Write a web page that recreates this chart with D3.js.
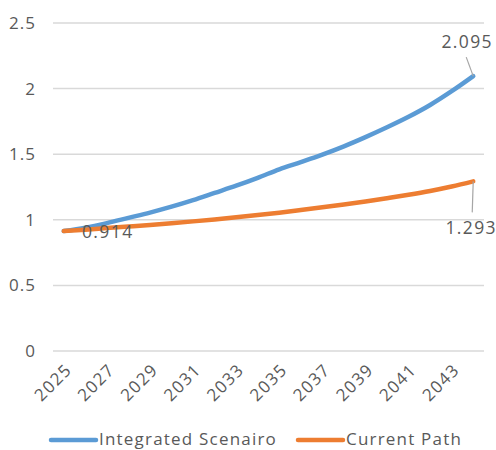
<!DOCTYPE html>
<html>
<head>
<meta charset="utf-8">
<script src="https://cdn.jsdelivr.net/npm/d3@7"></script>
<style>
  html, body { margin: 0; padding: 0; background: #fff; }
  svg { display: block; font-family: "Open Sans", "DejaVu Sans", sans-serif; }
</style>
</head>
<body>
<div id="chart"></div>
<script>
// Index values per year, 2025–2044
const years = d3.range(2025, 2045);
const integratedScenario = [0.914, 0.940, 0.975, 1.015, 1.055, 1.100, 1.150, 1.205, 1.260, 1.320,
                            1.385, 1.440, 1.497, 1.560, 1.630, 1.705, 1.785, 1.875, 1.980, 2.095];
const currentPath = [0.914, 0.925, 0.937, 0.949, 0.961, 0.974, 0.988, 1.003, 1.019, 1.036,
                     1.054, 1.074, 1.095, 1.117, 1.140, 1.165, 1.191, 1.220, 1.254, 1.293];
const yTicks = [0, 0.5, 1, 1.5, 2, 2.5];
const xTickYears = [2025, 2027, 2029, 2031, 2033, 2035, 2037, 2039, 2041, 2043];
const seriesNames = ["Integrated Scenairo", "Current Path"];
const seriesColors = ["#5B9BD5", "#ED7D31"];

const W = 496, H = 450;
const plot = { left: 53, right: 484, top: 23, bottom: 351 };
const textColor = "#595959";
const font = "Open Sans, sans-serif";

const svg = d3.select("#chart").append("svg").attr("width", W).attr("height", H);

const x = d3.scaleBand().domain(years).range([plot.left, plot.right]);
const xc = yr => x(yr) + x.bandwidth() / 2;
const y = d3.scaleLinear().domain([0, 2.5]).range([plot.bottom, plot.top]);

// Horizontal gridlines
svg.append("g").selectAll("line").data(yTicks).join("line")
  .attr("x1", plot.left).attr("x2", plot.right)
  .attr("y1", d => y(d)).attr("y2", d => y(d))
  .attr("stroke", "#D9D9D9").attr("stroke-width", 1.5);

// Y axis labels
const yAxis = svg.append("g").attr("transform", `translate(${plot.left - 17},0)`)
  .call(d3.axisLeft(y).tickValues(yTicks).tickSize(0).tickPadding(0).tickFormat(d3.format("")));
yAxis.select(".domain").remove();
yAxis.selectAll("text").attr("fill", textColor).attr("font-size", 17)
  .attr("font-family", font).attr("letter-spacing", 1);

// X axis labels, rotated
const xAxis = svg.append("g").attr("transform", `translate(0,${plot.bottom})`)
  .call(d3.axisBottom(x).tickValues(xTickYears).tickSize(0).tickPadding(0));
xAxis.select(".domain").remove();
xAxis.selectAll("text")
  .attr("fill", textColor).attr("font-size", 17).attr("font-family", font)
  .attr("letter-spacing", 1.3)
  .attr("text-anchor", "end")
  .attr("dy", null)
  .attr("transform", "translate(9,20) rotate(-45)");

// Series lines
const line = d3.line().x((d, i) => xc(years[i])).y(d => y(d)).curve(d3.curveMonotoneX);
[integratedScenario, currentPath].forEach((vals, k) => {
  svg.append("path").datum(vals)
    .attr("d", line)
    .attr("fill", "none")
    .attr("stroke", seriesColors[k])
    .attr("stroke-width", 4.5)
    .attr("stroke-linecap", "round")
    .attr("stroke-linejoin", "round");
});

// Data labels
const last = years.length - 1;
const fmt = d3.format(".3f");
const labelStyle = s => s.attr("fill", textColor).attr("font-size", 17.5).attr("font-family", font)
  .attr("letter-spacing", 1.4).attr("text-anchor", "middle");

// start value
svg.append("text").call(labelStyle)
  .attr("x", xc(years[0]) + 44).attr("y", y(integratedScenario[0]) + 7)
  .text(fmt(integratedScenario[0]));

// end of integrated scenario, with leader line
const bx = xc(years[last]), by = y(integratedScenario[last]);
svg.append("line").attr("x1", bx).attr("y1", by).attr("x2", bx - 7).attr("y2", by - 19)
  .attr("stroke", "#A6A6A6").attr("stroke-width", 1.2);
svg.append("text").call(labelStyle)
  .attr("x", bx - 6).attr("y", by - 28).text(fmt(integratedScenario[last]));

// end of current path, with leader line
const ox = xc(years[last]), oy = y(currentPath[last]);
svg.append("line").attr("x1", ox).attr("y1", oy).attr("x2", ox - 1).attr("y2", oy + 31)
  .attr("stroke", "#A6A6A6").attr("stroke-width", 1.2);
svg.append("text").call(labelStyle)
  .attr("x", ox - 2).attr("y", oy + 53).text(fmt(currentPath[last]));

// Legend
const legendX = [51, 298];
seriesNames.forEach((name, k) => {
  const g = svg.append("g").attr("transform", `translate(${legendX[k]},440)`);
  g.append("line").attr("x1", 0).attr("x2", 45).attr("y1", 0).attr("y2", 0)
    .attr("stroke", seriesColors[k]).attr("stroke-width", 4.5).attr("stroke-linecap", "round");
  g.append("text").attr("x", 48).attr("y", 5)
    .attr("fill", textColor).attr("font-size", 17).attr("font-family", font)
    .attr("letter-spacing", 1.2)
    .text(name);
});
</script>
</body>
</html>
